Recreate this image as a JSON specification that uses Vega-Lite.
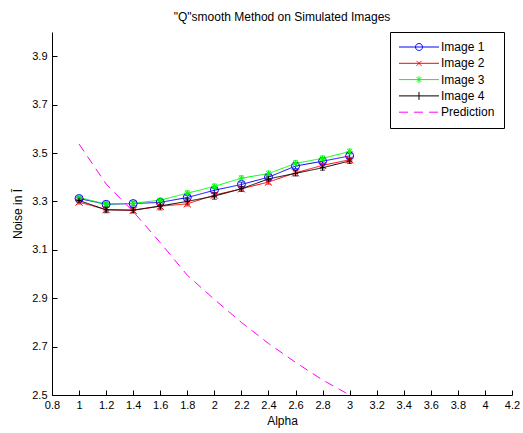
{
  "$schema": "https://vega.github.io/schema/vega-lite/v6.json",
  "width": 460,
  "height": 363,
  "autosize": {"type": "none"},
  "padding": {"left": 52, "top": 32, "right": 11, "bottom": 38},
  "background": "white",
  "title": {
    "text": "\"Q\"smooth Method on Simulated Images",
    "font": "Liberation Sans",
    "fontSize": 12,
    "fontWeight": "normal",
    "color": "black",
    "offset": 8
  },
  "config": {
    "view": {"stroke": null},
    "font": "Liberation Sans",
    "axis": {
      "grid": false,
      "domainColor": "black",
      "domainWidth": 1,
      "tickColor": "black",
      "tickSize": -5,
      "labelFont": "Liberation Sans",
      "labelFontSize": 11,
      "labelColor": "black",
      "titleFont": "Liberation Sans",
      "titleFontSize": 12,
      "titleFontWeight": "normal",
      "titleColor": "black"
    }
  },
  "data": {
    "values": [
      {"series": "Image 1", "alpha": 1.0, "noise": 3.312, "err": 0.008},
      {"series": "Image 1", "alpha": 1.2, "noise": 3.288, "err": 0.008},
      {"series": "Image 1", "alpha": 1.4, "noise": 3.291, "err": 0.008},
      {"series": "Image 1", "alpha": 1.6, "noise": 3.296, "err": 0.009},
      {"series": "Image 1", "alpha": 1.8, "noise": 3.316, "err": 0.009},
      {"series": "Image 1", "alpha": 2.0, "noise": 3.346, "err": 0.009},
      {"series": "Image 1", "alpha": 2.2, "noise": 3.370, "err": 0.009},
      {"series": "Image 1", "alpha": 2.4, "noise": 3.400, "err": 0.010},
      {"series": "Image 1", "alpha": 2.6, "noise": 3.446, "err": 0.010},
      {"series": "Image 1", "alpha": 2.8, "noise": 3.466, "err": 0.010},
      {"series": "Image 1", "alpha": 3.0, "noise": 3.488, "err": 0.010},
      {"series": "Image 2", "alpha": 1.0, "noise": 3.297, "err": 0.008},
      {"series": "Image 2", "alpha": 1.2, "noise": 3.266, "err": 0.009},
      {"series": "Image 2", "alpha": 1.4, "noise": 3.263, "err": 0.009},
      {"series": "Image 2", "alpha": 1.6, "noise": 3.280, "err": 0.009},
      {"series": "Image 2", "alpha": 1.8, "noise": 3.290, "err": 0.009},
      {"series": "Image 2", "alpha": 2.0, "noise": 3.326, "err": 0.009},
      {"series": "Image 2", "alpha": 2.2, "noise": 3.352, "err": 0.009},
      {"series": "Image 2", "alpha": 2.4, "noise": 3.380, "err": 0.009},
      {"series": "Image 2", "alpha": 2.6, "noise": 3.418, "err": 0.010},
      {"series": "Image 2", "alpha": 2.8, "noise": 3.449, "err": 0.010},
      {"series": "Image 2", "alpha": 3.0, "noise": 3.472, "err": 0.010},
      {"series": "Image 3", "alpha": 1.0, "noise": 3.316, "err": 0.008},
      {"series": "Image 3", "alpha": 1.2, "noise": 3.289, "err": 0.009},
      {"series": "Image 3", "alpha": 1.4, "noise": 3.292, "err": 0.009},
      {"series": "Image 3", "alpha": 1.6, "noise": 3.305, "err": 0.009},
      {"series": "Image 3", "alpha": 1.8, "noise": 3.334, "err": 0.010},
      {"series": "Image 3", "alpha": 2.0, "noise": 3.362, "err": 0.010},
      {"series": "Image 3", "alpha": 2.2, "noise": 3.396, "err": 0.010},
      {"series": "Image 3", "alpha": 2.4, "noise": 3.415, "err": 0.010},
      {"series": "Image 3", "alpha": 2.6, "noise": 3.457, "err": 0.012},
      {"series": "Image 3", "alpha": 2.8, "noise": 3.478, "err": 0.010},
      {"series": "Image 3", "alpha": 3.0, "noise": 3.506, "err": 0.010},
      {"series": "Image 4", "alpha": 1.0, "noise": 3.304, "err": 0.009},
      {"series": "Image 4", "alpha": 1.2, "noise": 3.265, "err": 0.012},
      {"series": "Image 4", "alpha": 1.4, "noise": 3.264, "err": 0.012},
      {"series": "Image 4", "alpha": 1.6, "noise": 3.281, "err": 0.016},
      {"series": "Image 4", "alpha": 1.8, "noise": 3.300, "err": 0.012},
      {"series": "Image 4", "alpha": 2.0, "noise": 3.322, "err": 0.013},
      {"series": "Image 4", "alpha": 2.2, "noise": 3.352, "err": 0.010},
      {"series": "Image 4", "alpha": 2.4, "noise": 3.393, "err": 0.011},
      {"series": "Image 4", "alpha": 2.6, "noise": 3.416, "err": 0.011},
      {"series": "Image 4", "alpha": 2.8, "noise": 3.439, "err": 0.010},
      {"series": "Image 4", "alpha": 3.0, "noise": 3.467, "err": 0.010},
      {"series": "Prediction", "alpha": 1.0, "noise": 3.537},
      {"series": "Prediction", "alpha": 1.2, "noise": 3.372},
      {"series": "Prediction", "alpha": 1.4, "noise": 3.258},
      {"series": "Prediction", "alpha": 1.6, "noise": 3.130},
      {"series": "Prediction", "alpha": 1.8, "noise": 2.995},
      {"series": "Prediction", "alpha": 2.0, "noise": 2.895},
      {"series": "Prediction", "alpha": 2.2, "noise": 2.800},
      {"series": "Prediction", "alpha": 2.4, "noise": 2.713},
      {"series": "Prediction", "alpha": 2.6, "noise": 2.635},
      {"series": "Prediction", "alpha": 2.8, "noise": 2.562},
      {"series": "Prediction", "alpha": 3.0, "noise": 2.500}
    ]
  },
  "encoding": {
    "x": {
      "field": "alpha",
      "type": "quantitative",
      "title": "Alpha",
      "scale": {"domain": [0.8, 4.2], "nice": false, "zero": false},
      "axis": {
        "values": [0.8, 1.0, 1.2, 1.4, 1.6, 1.8, 2.0, 2.2, 2.4, 2.6, 2.8, 3.0, 3.2, 3.4, 3.6, 3.8, 4.0, 4.2],
        "format": "~g",
        "labelPadding": 9,
        "titlePadding": 5,
        "labelFlush": false,
        "labelOverlap": false
      }
    },
    "y": {
      "field": "noise",
      "type": "quantitative",
      "title": "Noise in Ī",
      "scale": {"domain": [2.5, 4.0], "nice": false, "zero": false},
      "axis": {
        "values": [2.5, 2.7, 2.9, 3.1, 3.3, 3.5, 3.7, 3.9],
        "format": ".1f",
        "labelPadding": 10,
        "titlePadding": 7,
        "labelFlush": false,
        "labelOverlap": false
      }
    },
    "color": {
      "field": "series",
      "type": "nominal",
      "scale": {
        "domain": ["Image 1", "Image 2", "Image 3", "Image 4", "Prediction"],
        "range": ["#0000ff", "#ff0000", "#00ff00", "#000000", "#ff00ff"]
      },
      "legend": {
        "title": null,
        "orient": "none",
        "legendX": 338,
        "legendY": 0,
        "padding": 9,
        "strokeColor": "black",
        "fillColor": "white",
        "labelFont": "Liberation Sans",
        "labelFontSize": 12,
        "labelColor": "black",
        "symbolSize": 100,
        "symbolOffset": 14,
        "labelOffset": 16,
        "rowPadding": 4.3,
        "symbolFillColor": "transparent",
        "encode": {
          "symbols": {
            "update": {
              "shape": {"signal": "datum.value === 'Image 1' ? 'M-4,0H4M-0.7,0A0.7,0.7 0 1,0 0.7,0A0.7,0.7 0 1,0 -0.7,0' : datum.value === 'Image 2' ? 'M-4,0H4M-0.5,-0.5L0.5,0.5M-0.5,0.5L0.5,-0.5' : datum.value === 'Image 3' ? 'M-4,0H4M0,-0.7V0.7M-0.5,-0.5L0.5,0.5M-0.5,0.5L0.5,-0.5' : datum.value === 'Image 4' ? 'M-4,0H4M0,-0.8V0.8' : 'M-4,0H4'"},
              "stroke": {"scale": "color", "field": "value"},
              "fill": {"value": "transparent"},
              "fillOpacity": {"value": 0},
              "strokeWidth": {"value": 1},
              "opacity": {"value": 1},
              "strokeDash": {"signal": "datum.value === 'Prediction' ? [8, 5] : [1, 0]"}
            }
          }
        }
      }
    }
  },
  "layer": [
    {
      "transform": [{"filter": "datum.series !== 'Prediction'"}],
      "mark": {"type": "errorbar", "ticks": true, "thickness": 1},
      "encoding": {
        "y": {"field": "noise", "type": "quantitative"},
        "yError": {"field": "err"}
      }
    },
    {
      "mark": {"type": "line", "strokeWidth": 1},
      "encoding": {
        "strokeDash": {
          "field": "series",
          "type": "nominal",
          "scale": {
            "domain": ["Image 1", "Image 2", "Image 3", "Image 4", "Prediction"],
            "range": [[1, 0], [1, 0], [1, 0], [1, 0], [9, 6]]
          },
          "legend": null
        }
      }
    },
    {
      "transform": [{"filter": "datum.series !== 'Prediction'"}],
      "mark": {"type": "point", "filled": false, "strokeWidth": 1, "opacity": 1},
      "encoding": {
        "shape": {
          "field": "series",
          "type": "nominal",
          "scale": {
            "domain": ["Image 1", "Image 2", "Image 3", "Image 4"],
            "range": ["circle", "M-1,-1L1,1M-1,1L1,-1", "M0,-1V1M-1,0H1M-0.7,-0.7L0.7,0.7M-0.7,0.7L0.7,-0.7", "M-1,0H1M0,-1V1"]
          },
          "legend": null
        },
        "size": {
          "field": "series",
          "type": "nominal",
          "scale": {
            "domain": ["Image 1", "Image 2", "Image 3", "Image 4"],
            "range": [64, 30, 49, 49]
          },
          "legend": null
        }
      }
    }
  ]
}
